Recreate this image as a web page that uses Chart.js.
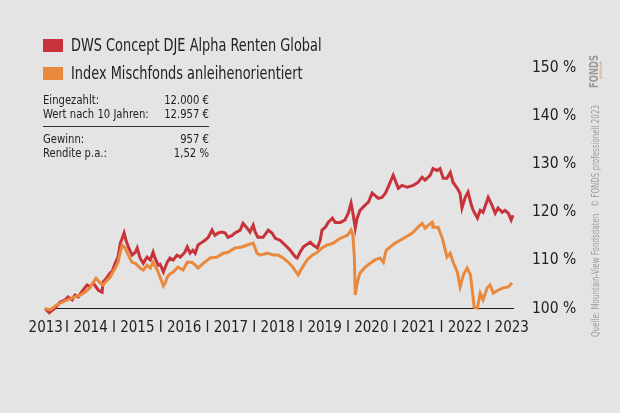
<!DOCTYPE html>
<html>
<head>
<meta charset="utf-8">
<script src="https://cdn.jsdelivr.net/npm/chart.js@4.4.0/dist/chart.umd.min.js"></script>
<style>
  html, body { margin: 0; padding: 0; background: #e4e4e4; }
  #wrap { position: relative; width: 620px; height: 413px; overflow: hidden;
          font-family: "Liberation Sans Narrow", "DejaVu Sans Condensed", "Liberation Sans", sans-serif; color: #222; }
  canvas { position: absolute; left: 0; top: 0; }
  .leg { position: absolute; left: 43px; font-size: 17px; line-height: 20px; white-space: nowrap; }
  .leg span { display: inline-block; width: 20px; height: 13px; vertical-align: -1px; }
  .leg b { display: inline-block; font-weight: normal; margin-left: 8px; transform-origin: 0 50%; transform: scaleX(0.845); }
  .info { position: absolute; left: 43px; width: 193px; font-size: 13px; line-height: 13.5px;
          transform-origin: 0 0; transform: scaleX(0.86); }
  .info .r { display: flex; justify-content: space-between; white-space: nowrap; }
  .info hr { border: 0; border-top: 1px solid #333; margin: 6px 0 5px 0; }
  .src { position: absolute; left: 595px; top: 337px; transform-origin: 0 0; transform: rotate(-90deg) translateY(-50%) scaleX(0.79);
         font-size: 10px; color: #9b9b9b; white-space: nowrap; }
  .logo { position: absolute; left: 594px; top: 88px; transform-origin: 0 0; transform: rotate(-90deg) translateY(-50%) scaleX(0.78);
          font-size: 12px; font-weight: bold; color: #999; white-space: nowrap; }
  .logo small { position: absolute; left: 12px; top: 11px; font-size: 4px; font-weight: normal; color: #e08a50; }
</style>
</head>
<body>
<div id="wrap">
  <canvas id="myChart" width="620" height="413"></canvas>
  <div class="leg" style="top:35px"><span style="background:#c8323a"></span><b>DWS Concept DJE Alpha Renten Global</b></div>
  <div class="leg" style="top:63px"><span style="background:#e8893e"></span><b>Index Mischfonds anleihenorientiert</b></div>
  <div class="info" style="top:93px">
    <div class="r"><span>Eingezahlt:</span><span>12.000 €</span></div>
    <div class="r"><span>Wert nach 10 Jahren:</span><span>12.957 €</span></div>
    <hr>
    <div class="r"><span>Gewinn:</span><span>957 €</span></div>
    <div class="r"><span>Rendite p.a.:</span><span>1,52 %</span></div>
  </div>
  <div class="src">Quelle: Mountain-View Fondsdaten &nbsp; © FONDS professionell 2023</div>
  <div class="logo">FONDS<small>professionell</small></div>
</div>
<script>
var ctx = document.getElementById('myChart').getContext('2d');

// x = decimal year, y = value in % of start
var dwsYears = [2013.57,2013.66,2013.79,2013.89,2014.00,2014.06,2014.15,2014.21,2014.28,2014.38,2014.47,2014.53,2014.60,2014.71,2014.79,2014.81,2014.90,2014.96,2015.00,2015.07,2015.13,2015.18,2015.22,2015.26,2015.30,2015.35,2015.43,2015.50,2015.54,2015.60,2015.67,2015.75,2015.82,2015.88,2015.92,2015.99,2016.03,2016.10,2016.18,2016.24,2016.31,2016.39,2016.46,2016.56,2016.61,2016.67,2016.73,2016.78,2016.84,2016.93,2016.99,2017.06,2017.14,2017.20,2017.27,2017.35,2017.42,2017.48,2017.57,2017.63,2017.74,2017.80,2017.89,2017.95,2018.02,2018.06,2018.12,2018.23,2018.34,2018.42,2018.49,2018.59,2018.70,2018.81,2018.92,2018.96,2019.02,2019.09,2019.24,2019.30,2019.39,2019.45,2019.49,2019.56,2019.62,2019.71,2019.77,2019.88,2019.98,2020.05,2020.11,2020.15,2020.20,2020.24,2020.30,2020.41,2020.48,2020.56,2020.62,2020.69,2020.77,2020.84,2020.90,2021.01,2021.05,2021.12,2021.20,2021.31,2021.44,2021.54,2021.63,2021.69,2021.80,2021.86,2021.95,2022.01,2022.08,2022.16,2022.23,2022.29,2022.38,2022.44,2022.48,2022.55,2022.61,2022.68,2022.72,2022.81,2022.87,2022.93,2023.04,2023.12,2023.19,2023.25,2023.34,2023.40,2023.47,2023.53,2023.57];
var dwsValues = [100.0,99.1,100.1,101.3,101.8,102.4,101.8,102.8,102.4,103.8,104.9,104.5,105.3,103.8,103.4,105.5,106.5,107.4,107.6,109.4,110.7,113.6,114.6,115.7,114.2,112.8,111.1,111.7,112.6,110.5,109.4,110.7,110.1,111.7,110.5,109.0,109.2,107.6,109.6,110.5,110.1,111.1,110.7,111.7,112.8,111.5,112.1,111.5,113.2,113.8,114.2,114.8,116.3,115.2,115.7,115.9,115.7,114.8,115.2,115.7,116.3,117.7,116.7,115.9,117.3,115.9,114.8,114.8,116.3,115.7,114.6,114.2,113.2,112.1,110.7,110.5,111.7,112.8,113.8,113.2,112.6,114.2,116.3,116.9,117.9,118.8,117.9,117.9,118.4,119.8,121.9,119.8,116.7,118.8,120.4,121.5,122.1,124.0,123.5,122.9,123.1,123.9,125.2,127.7,126.7,125.0,125.6,125.2,125.6,126.2,127.3,126.7,127.7,129.1,128.7,129.1,127.1,127.1,128.3,126.2,125.0,123.9,120.9,123.1,124.2,121.5,120.4,118.8,120.4,120.0,123.1,121.5,119.8,120.9,120.0,120.4,119.8,118.4,119.4];

var indexYears = [2013.57,2013.68,2013.79,2013.89,2014.00,2014.11,2014.21,2014.32,2014.43,2014.53,2014.66,2014.75,2014.81,2014.90,2014.96,2015.07,2015.13,2015.18,2015.22,2015.28,2015.35,2015.43,2015.50,2015.54,2015.60,2015.67,2015.75,2015.82,2015.88,2015.97,2016.03,2016.10,2016.14,2016.18,2016.24,2016.31,2016.41,2016.52,2016.61,2016.71,2016.78,2016.84,2016.95,2017.10,2017.25,2017.38,2017.48,2017.63,2017.78,2017.89,2018.02,2018.10,2018.17,2018.32,2018.45,2018.55,2018.66,2018.77,2018.85,2018.98,2019.06,2019.17,2019.28,2019.39,2019.49,2019.60,2019.73,2019.88,2020.03,2020.11,2020.15,2020.18,2020.20,2020.24,2020.30,2020.41,2020.52,2020.62,2020.73,2020.80,2020.86,2020.95,2021.05,2021.16,2021.27,2021.42,2021.52,2021.63,2021.69,2021.76,2021.84,2021.86,2021.97,2022.06,2022.16,2022.23,2022.29,2022.38,2022.44,2022.51,2022.59,2022.66,2022.70,2022.74,2022.81,2022.87,2022.93,2023.02,2023.08,2023.15,2023.25,2023.36,2023.47,2023.55];
var indexValues = [100.0,99.7,100.5,101.1,101.6,102.0,102.4,102.8,103.4,104.3,106.3,105.3,104.9,105.9,106.5,108.4,109.6,111.7,113.2,112.6,111.1,109.6,109.4,109.0,108.4,108.0,109.0,108.4,109.6,108.0,106.5,104.7,105.3,106.5,107.2,107.6,108.6,108.0,109.6,109.6,109.0,108.4,109.4,110.5,110.7,111.5,111.7,112.6,112.8,113.2,113.6,111.5,111.1,111.5,111.1,111.1,110.5,109.6,108.8,107.0,108.4,110.1,111.1,111.7,112.6,113.2,113.6,114.6,115.2,116.3,115.2,110.7,102.8,105.3,107.4,108.6,109.4,110.1,110.5,109.6,112.1,112.8,113.6,114.2,114.8,115.7,116.7,117.7,116.7,117.3,117.9,116.9,116.9,114.6,110.7,111.5,109.6,107.6,104.5,107.0,108.4,107.0,103.8,100.3,100.1,103.2,101.8,104.3,104.9,103.2,103.8,104.3,104.5,105.3];

var yearTicks = [2013.22, 2014, 2015, 2016, 2017, 2018, 2019, 2020, 2021, 2022, 2023];
var yearLabels = ["2013", "I 2014", "I 2015", "I 2016", "I 2017", "I 2018", "I 2019", "I 2020", "I 2021", "I 2022", "I 2023"];
var pctTicks = [100, 110, 120, 130, 140, 150];

function toPoints(xs, ys) {
    var out = [];
    for (var i = 0; i < xs.length; i++) out.push({x: xs[i], y: ys[i]});
    return out;
}

var FONT = '"Liberation Sans Narrow", "DejaVu Sans Condensed", sans-serif';

var chart = new Chart(ctx, {
    type: 'line',
    data: {
        datasets: [{
            label: "Index Mischfonds anleihenorientiert",
            data: toPoints(indexYears, indexValues),
            borderColor: '#e8893e',
            borderWidth: 3,
            pointRadius: 0,
            clip: false
        },
        {
            label: "DWS Concept DJE Alpha Renten Global",
            data: toPoints(dwsYears, dwsValues),
            borderColor: '#c8323a',
            borderWidth: 3,
            pointRadius: 0,
            clip: false
        }]
    },
    options: {
        responsive: false,
        animation: false,
        events: [],
        layout: { padding: { left: 45, top: 68, right: 0, bottom: 0 } },
        plugins: { legend: { display: false }, tooltip: { enabled: false } },
        scales: {
            x: {
                type: 'linear',
                min: 2013.57,
                max: 2023.57,
                grid: { display: false, drawTicks: false },
                border: { display: true, color: '#1a1a1a', width: 1 },
                afterBuildTicks: function(scale) {
                    scale.ticks = yearTicks.map(function(v) { return {value: v}; });
                },
                afterFit: function(scale) { scale.height = 104.5; },
                ticks: {
                    autoSkip: false,
                    maxRotation: 0,
                    align: 'start',
                    padding: 11,
                    color: '#222',
                    font: { family: FONT, size: 15 },
                    callback: function(v, i) { return yearLabels[i]; }
                }
            },
            y: {
                position: 'right',
                min: 100,
                max: 150,
                grid: { display: false, drawTicks: false },
                border: { display: false },
                afterBuildTicks: function(scale) {
                    scale.ticks = pctTicks.map(function(v) { return {value: v}; });
                },
                afterFit: function(scale) { scale.width = 107; },
                ticks: {
                    padding: 19,
                    color: '#222',
                    font: { family: FONT, size: 15.5 },
                    callback: function(v) { return v + ' %'; }
                }
            }
        }
    }
});
</script>
</body>
</html>
